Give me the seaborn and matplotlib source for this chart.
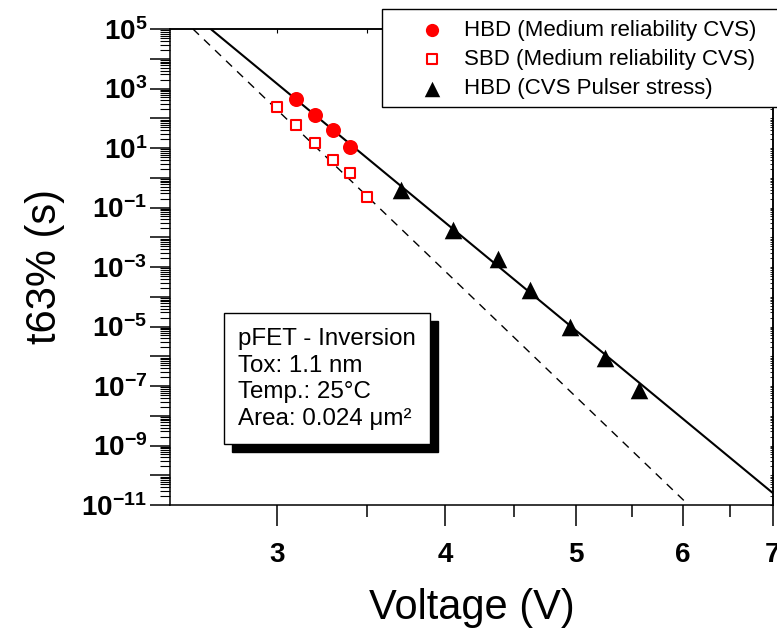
import numpy as np
import matplotlib
matplotlib.use('Agg')
import matplotlib.pyplot as plt
import matplotlib.ticker as mticker
import matplotlib.transforms as mtransforms
from matplotlib.patches import Rectangle
import seaborn as sns

# t63% (s) vs gate voltage (V)
hbd_v = [3.1, 3.2, 3.3, 3.4]
hbd_t = [430, 128, 40, 11]
sbd_v = [3.0, 3.1, 3.2, 3.3, 3.4, 3.5]
sbd_t = [245, 61, 14.5, 3.9, 1.4, 0.23]
pulse_v = [3.71, 4.05, 4.38, 4.62, 4.95, 5.25, 5.57]
pulse_t = [0.39, 1.75e-2, 1.8e-3, 1.7e-4, 9.8e-6, 8.5e-7, 7.3e-8]

# power-law fits: end points of the straight lines (log-log)
fit_hbd_v = [2.68, 7.0]
fit_hbd_t = [1e5, 2.5e-11]
fit_sbd_v = [2.6, 6.06]
fit_sbd_t = [1e5, 1e-11]

x_major = [3, 4, 5, 6, 7]
x_minor = [3.5, 4.5, 5.5, 6.5]
info_lines = ["pFET - Inversion", "Tox: 1.1 nm", "Temp.: 25°C", "Area: 0.024 μm²"]

sns.set_theme(style='ticks')
plt.rcParams['font.family'] = ['Liberation Sans', 'DejaVu Sans']
plt.rcParams['mathtext.fontset'] = 'custom'
plt.rcParams['mathtext.bf'] = 'Liberation Sans:bold'
plt.rcParams['mathtext.rm'] = 'Liberation Sans'
for key in ('text.color', 'axes.labelcolor', 'xtick.color', 'ytick.color', 'axes.edgecolor'):
    plt.rcParams[key] = 'black'

fig = plt.figure(figsize=(7.77, 6.3), dpi=100)
ax = fig.add_axes([170 / 777, 125 / 630, 603 / 777, 476 / 630])
ax.set(xscale='log', yscale='log')

sns.lineplot(x=fit_hbd_v, y=fit_hbd_t, ax=ax, color='black', lw=1.5, estimator=None)
sns.lineplot(x=fit_sbd_v, y=fit_sbd_t, ax=ax, color='black', lw=1.0, estimator=None,
             linestyle=(0, (6, 5)))

sns.scatterplot(x=hbd_v, y=hbd_t, ax=ax, marker='o', s=117, color='red',
                edgecolor='red', linewidth=0, zorder=4,
                label='HBD (Medium reliability CVS)')
sns.scatterplot(x=sbd_v, y=sbd_t, ax=ax, marker='s', s=62, color='white',
                edgecolor='red', linewidth=1.5, zorder=4,
                label='SBD (Medium reliability CVS)')
sns.scatterplot(x=pulse_v, y=pulse_t, ax=ax, marker='^', s=160, color='black',
                edgecolor='black', linewidth=0, zorder=4,
                label='HBD (CVS Pulser stress)')

ax.set_xlim(2.5, 7)
ax.set_ylim(1e-11, 1e5)

# x axis
ax.set_xticks(x_major)
ax.set_xticklabels([str(v) for v in x_major])
ax.set_xticks(x_minor, minor=True)
ax.xaxis.set_minor_formatter(mticker.NullFormatter())

# y axis, every decade, labels on odd exponents
ax.yaxis.set_major_locator(mticker.LogLocator(base=10, numticks=40))
ax.yaxis.set_minor_locator(mticker.LogLocator(base=10, subs=np.arange(2, 10), numticks=400))


def ylab(v, pos):
    e = int(round(np.log10(v)))
    return rf'$\mathbf{{10^{{{e}}}}}$' if e % 2 else ''


ax.yaxis.set_major_formatter(mticker.FuncFormatter(ylab))
ax.yaxis.set_minor_formatter(mticker.NullFormatter())

ax.tick_params(axis='x', which='major', direction='out', length=15, width=1.1,
               labelsize=20, pad=12, top=False)
ax.tick_params(axis='x', which='minor', direction='out', length=8.5, width=1.1, top=False)
ax.tick_params(axis='y', which='major', direction='out', length=14.5, width=1.1,
               labelsize=20, pad=2, right=False)
ax.tick_params(axis='y', which='minor', direction='out', length=7, width=0.8, right=False)
for lab in ax.get_xticklabels():
    lab.set_fontweight('bold')

# inward ticks on top / right
top = ax.secondary_xaxis('top')
top.set_xticks(x_major + x_minor)
top.tick_params(direction='in', length=3, width=0.8, labeltop=False)
top.xaxis.set_minor_locator(mticker.NullLocator())
right = ax.secondary_yaxis('right')
right.yaxis.set_major_locator(mticker.LogLocator(base=10, numticks=40))
right.yaxis.set_minor_locator(mticker.LogLocator(base=10, subs=np.arange(2, 10), numticks=400))
right.tick_params(which='both', direction='in', length=2.5, width=0.6, labelright=False)

for sp in ax.spines.values():
    sp.set_linewidth(1.1)
for s in (top, right):
    for sp in s.spines.values():
        sp.set_linewidth(1.1)

ax.set_xlabel('Voltage (V)', fontsize=30, labelpad=14)
ax.set_ylabel('t63% (s)', fontsize=30, labelpad=12)

# info box with drop shadow
info = "\n".join(info_lines)
shadow_tr = mtransforms.offset_copy(ax.transAxes, fig=fig, x=8, y=-8, units='dots')
ax.text(0.1128, 0.372, info, transform=shadow_tr, fontsize=17.4, va='top', ha='left',
        linespacing=1.27, color='none', zorder=5,
        bbox=dict(boxstyle='square,pad=0.6', fc='black', ec='black'))
ax.text(0.1128, 0.372, info, transform=ax.transAxes, fontsize=17.4, va='top', ha='left',
        linespacing=1.27, color='black', zorder=6,
        bbox=dict(boxstyle='square,pad=0.6', fc='white', ec='black', lw=1))

# legend, boxed in a frame that runs off the right edge
handles, labels = ax.get_legend_handles_labels()
ax.get_legend().remove()
fig.patches.append(Rectangle((382 / 777, 1 - 107 / 630), 420 / 777, 98 / 630,
                             transform=fig.transFigure, fc='white', ec='black',
                             lw=1, zorder=4))
fig.legend(handles, labels, loc='upper left', bbox_to_anchor=(421 / 777, 1 - 20 / 630),
           bbox_transform=fig.transFigure, frameon=False, fontsize=16,
           handlelength=1.0, handletextpad=0.95, borderpad=0, borderaxespad=0,
           labelspacing=0.37, markerscale=0.88)

fig.savefig('out.png', dpi=100, facecolor='white')
